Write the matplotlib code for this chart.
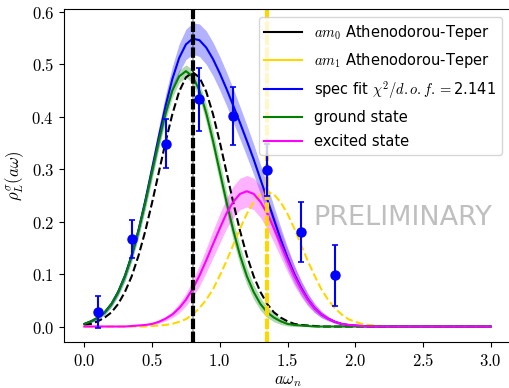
import matplotlib
matplotlib.use('Agg')
import matplotlib.pyplot as plt
from matplotlib.lines import Line2D
from matplotlib.ticker import FuncFormatter
import numpy as np

plt.rcParams['mathtext.fontset'] = 'cm'

# energies on a 0.05 grid from 0 to 3
omega = np.round(np.arange(0, 3.0001, 0.05), 2)

def pad(vals):
    return np.array(vals + [0.0] * (len(omega) - len(vals)))

# Athenodorou-Teper smeared states (dashed)
at_ground = pad([0.003, 0.005, 0.010, 0.017, 0.027, 0.043, 0.066, 0.096, 0.135, 0.182,
                 0.236, 0.294, 0.352, 0.405, 0.448, 0.475, 0.485, 0.475, 0.448, 0.405,
                 0.352, 0.294, 0.236, 0.182, 0.135, 0.096, 0.066, 0.043, 0.027, 0.017,
                 0.010, 0.005, 0.003, 0.002, 0.001])
at_excited = pad([0.0, 0.0, 0.0, 0.0, 0.0, 0.0, 0.0, 0.0, 0.0, 0.0,
                  0.001, 0.002, 0.003, 0.005, 0.009, 0.014, 0.023, 0.035, 0.051, 0.071,
                  0.097, 0.125, 0.156, 0.187, 0.215, 0.237, 0.252, 0.257, 0.252, 0.237,
                  0.215, 0.187, 0.156, 0.125, 0.097, 0.071, 0.051, 0.035, 0.023, 0.014,
                  0.009, 0.005, 0.003, 0.002, 0.001])

# fit results
spec_fit = pad([0.005, 0.010, 0.017, 0.027, 0.043, 0.066, 0.097, 0.136, 0.184, 0.240,
                0.301, 0.362, 0.421, 0.472, 0.512, 0.538, 0.549, 0.546, 0.532, 0.510,
                0.483, 0.453, 0.421, 0.388, 0.354, 0.319, 0.281, 0.243, 0.204, 0.166,
                0.131, 0.100, 0.074, 0.052, 0.035, 0.023, 0.015, 0.009, 0.005, 0.003,
                0.002, 0.001])
spec_err = pad([0.002, 0.002, 0.003, 0.004, 0.005, 0.006, 0.008, 0.009, 0.011, 0.013,
                0.015, 0.018, 0.021, 0.024, 0.027, 0.029, 0.030, 0.031, 0.032, 0.032,
                0.032, 0.032, 0.032, 0.031, 0.030, 0.029, 0.028, 0.027, 0.025, 0.023,
                0.020, 0.017, 0.014, 0.011, 0.008, 0.006, 0.004, 0.003, 0.002, 0.001])
ground = pad([0.005, 0.010, 0.017, 0.027, 0.043, 0.066, 0.096, 0.135, 0.183, 0.237,
              0.295, 0.354, 0.407, 0.450, 0.477, 0.487, 0.477, 0.450, 0.407, 0.354,
              0.295, 0.237, 0.183, 0.135, 0.096, 0.066, 0.043, 0.027, 0.017, 0.010,
              0.005, 0.003, 0.002, 0.001])
ground_err = pad([0.002, 0.003, 0.004, 0.005, 0.006, 0.008, 0.010, 0.011, 0.013, 0.014,
                  0.015, 0.015, 0.014, 0.013, 0.012, 0.012, 0.013, 0.015, 0.017, 0.019,
                  0.020, 0.020, 0.019, 0.018, 0.016, 0.014, 0.012, 0.010, 0.008, 0.006,
                  0.004, 0.003, 0.002, 0.001])
excited = pad([0.0, 0.0, 0.0, 0.0, 0.0, 0.0, 0.0, 0.001, 0.002, 0.003,
               0.005, 0.009, 0.015, 0.023, 0.035, 0.051, 0.072, 0.097, 0.126, 0.157,
               0.187, 0.216, 0.238, 0.253, 0.258, 0.253, 0.238, 0.216, 0.187, 0.157,
               0.126, 0.097, 0.072, 0.051, 0.035, 0.023, 0.015, 0.009, 0.005, 0.003,
               0.002, 0.001])
excited_err = pad([0.0, 0.0, 0.0, 0.0, 0.0, 0.0, 0.0, 0.0, 0.0, 0.001,
                   0.002, 0.003, 0.004, 0.006, 0.009, 0.012, 0.016, 0.020, 0.023, 0.026,
                   0.028, 0.029, 0.030, 0.030, 0.030, 0.030, 0.030, 0.029, 0.027, 0.025,
                   0.022, 0.019, 0.015, 0.012, 0.009, 0.006, 0.004, 0.003, 0.002, 0.001])

# lattice data
data_x = [0.1, 0.35, 0.6, 0.85, 1.1, 1.35, 1.6, 1.85]
data_y = [0.028, 0.167, 0.349, 0.433, 0.401, 0.299, 0.180, 0.098]
data_err = [0.031, 0.037, 0.047, 0.060, 0.055, 0.050, 0.057, 0.058]

am0, am0_err = 0.8, 0.008
am1, am1_err = 1.35, 0.008
chi2 = 2.141

fig = plt.figure(figsize=(5.09, 3.88), dpi=100)
ax = fig.add_axes([64/509, 1 - 342/388, 447/509, 333/388])

ax.fill_between(omega, spec_fit - spec_err, spec_fit + spec_err, color='blue', alpha=0.3, lw=0)
ax.fill_between(omega, ground - ground_err, ground + ground_err, color='green', alpha=0.3, lw=0)
ax.fill_between(omega, excited - excited_err, excited + excited_err, color='magenta', alpha=0.3, lw=0)

ax.plot(omega, at_ground, '--', color='black', lw=1.5)
ax.plot(omega, at_excited, '--', color='gold', lw=1.5)
ax.plot(omega, spec_fit, color='blue', lw=1.5)
ax.plot(omega, ground, color='green', lw=1.5)
ax.plot(omega, excited, color='magenta', lw=1.5)

ax.axvspan(am0 - am0_err, am0 + am0_err, color='black', alpha=0.3, lw=0)
ax.axvline(am0, color='black', lw=3, ls=(0, (2.5, 0.6)))
ax.axvspan(am1 - am1_err, am1 + am1_err, color='gold', alpha=0.3, lw=0)
ax.axvline(am1, color='gold', lw=3, ls=(0, (2.5, 0.6)))

ax.errorbar(data_x, data_y, yerr=data_err, fmt='o', color='blue', ms=6.5,
            elinewidth=1.5, capsize=2.5, capthick=1.2)

ax.text(313/509, 1 - 218/388, 'PRELIMINARY', transform=fig.transFigure,
        family='DejaVu Sans', fontsize=19.5,
        color='#bfbfbf', va='center', ha='left')

ax.set_xlim(-0.15, 3.15)
ax.set_ylim(-0.0295, 0.6055)
ax.set_xticks([0.0, 0.5, 1.0, 1.5, 2.0, 2.5, 3.0])
ax.set_yticks([0.0, 0.1, 0.2, 0.3, 0.4, 0.5, 0.6])
fmt = FuncFormatter(lambda v, p: f'${v:.1f}$')
ax.xaxis.set_major_formatter(fmt)
ax.yaxis.set_major_formatter(fmt)
ax.tick_params(labelsize=12)
ax.set_xlabel(r'$a\omega_n$', fontsize=12, labelpad=1)
ax.set_ylabel(r'$\rho_L^\sigma(a\omega)$', fontsize=12)

handles = [
    Line2D([], [], color='black', lw=1.5),
    Line2D([], [], color='gold', lw=1.5),
    Line2D([], [], color='blue', lw=1.5),
    Line2D([], [], color='green', lw=1.5),
    Line2D([], [], color='magenta', lw=1.5),
]
labels = [
    r'$am_0$ Athenodorou-Teper',
    r'$am_1$ Athenodorou-Teper',
    r'spec fit $\chi^2/d.o.f.=$' + f'{chi2}',
    'ground state',
    'excited state',
]
ax.legend(handles, labels, loc='upper right', bbox_to_anchor=(502/509, 1 - 17/388),
          bbox_transform=fig.transFigure, borderaxespad=0, fontsize=10.5,
          framealpha=0.8, handlelength=2.6, labelspacing=0.62)

fig.savefig('out.png', dpi=100)
